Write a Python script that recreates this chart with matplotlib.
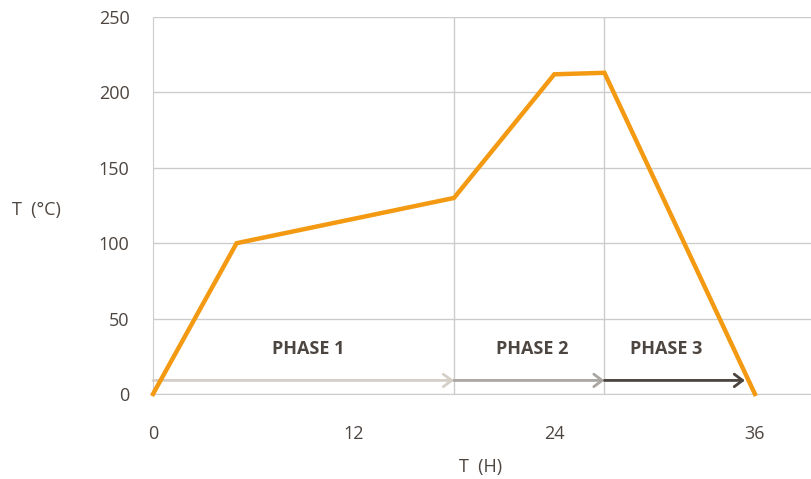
import matplotlib.pyplot as plt

# profile data
hours = [0, 5, 18, 24, 27, 36]
temps = [0, 100, 130, 212, 213, 0]

# phases
phase_names = ['PHASE 1', 'PHASE 2', 'PHASE 3']
phase_start = [0, 18, 27]
phase_end = [18, 27, 35.4]
phase_colors = ['#d6cfc8', '#a9a6a3', '#4b433d']
phase_label_x = [9.3, 22.7, 30.7]

xticks = [0, 12, 24, 36]
yticks = [0, 50, 100, 150, 200, 250]

text_color = '#4d4540'
grid_color = '#cccccc'
plt.rcParams['font.family'] = ['Open Sans', 'DejaVu Sans']

fig = plt.figure(figsize=(8.11, 4.79), dpi=100)
ax = fig.add_axes([153 / 811, 1 - 394 / 479, 1 - 153 / 811, (394 - 17) / 479])

ax.plot(hours, temps, color='#f39a12', lw=3.2, solid_joinstyle='miter', clip_on=False, zorder=5)

for name, x0, x1, c, lx in zip(phase_names, phase_start, phase_end, phase_colors, phase_label_x):
    ax.annotate('', xy=(x1, 9), xytext=(x0, 9),
                arrowprops=dict(arrowstyle='->,head_length=0.6,head_width=0.45', color=c, lw=2,
                                shrinkA=0, shrinkB=0), zorder=3)
    ax.text(lx, 30, name, ha='center', va='center', fontsize=13, fontweight='bold', color=text_color)

ax.set_xlim(0, 658 / 16.72)
ax.set_ylim(0, 250)
ax.set_xticks(xticks)
ax.set_yticks(yticks)
ax.tick_params(length=0, labelsize=13, labelcolor=text_color)
ax.tick_params(axis='x', pad=22)
ax.tick_params(axis='y', pad=17)

ax.grid(True, axis='y', color=grid_color, lw=1)
for x in [18, 27]:
    ax.axvline(x, color=grid_color, lw=1, zorder=1)

for s in ['top', 'right']:
    ax.spines[s].set_visible(False)
ax.spines['left'].set_color(grid_color)
ax.spines['bottom'].set_color(grid_color)
ax.set_axisbelow(True)

fig.text(481 / 811, 1 - 467 / 479, 'T  (H)', fontsize=13, color=text_color, ha='center', va='center')
fig.text(12 / 811, 1 - 210 / 479, 'T  (°C)', fontsize=13, color=text_color, ha='left', va='center')

fig.savefig('out.png', dpi=100)
